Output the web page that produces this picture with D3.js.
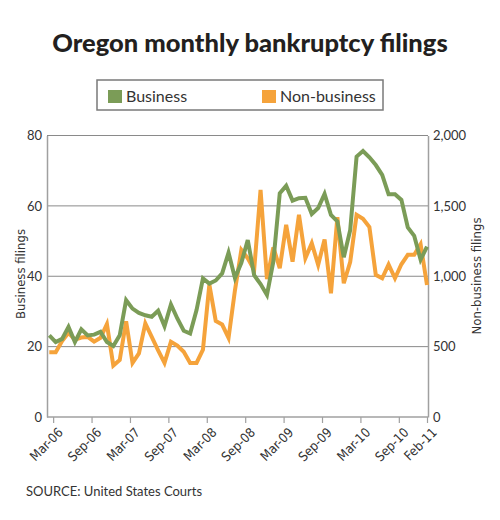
<!DOCTYPE html>
<html>
<head>
<meta charset="utf-8">
<script src="https://cdn.jsdelivr.net/npm/d3@7.9.0/dist/d3.min.js"></script>
<style>
  body { margin: 0; background: #fff; }
  svg { display: block; font-family: Lato, "Open Sans", sans-serif; }
  .cond { font-family: "Liberation Sans Narrow", "DejaVu Sans Condensed", Lato, sans-serif; font-stretch: condensed; }
</style>
</head>
<body>
<svg id="chart" width="500" height="520"></svg>
<script>
// monthly values, Mar-06 .. Feb-11
const business = [
  23.2, 21.3, 22.2, 25.6, 21.3, 24.9, 23.2, 23.4, 24.2, 21.3,
  20.2, 23.2, 33.2, 30.8, 29.6, 28.9, 28.5, 30.2, 25.8, 32.0,
  28.0, 24.5, 23.7, 30.4, 39.4, 37.9, 38.8, 40.8, 46.7, 39.5,
  43.8, 50.3, 40.3, 37.8, 34.7, 44.2, 63.6, 65.7, 61.5, 62.2,
  62.3, 57.7, 59.4, 63.4, 57.4, 55.6, 45.4, 53.1, 74.0, 75.6,
  73.8, 71.6, 68.8, 63.3, 63.3, 61.7, 53.9, 51.5, 44.7, 48.4
];
const nonBusiness = [
  460, 460, 540, 598, 550, 565, 569, 535, 563, 660,
  365, 405, 680, 384, 452, 665, 569, 474, 384, 534,
  508, 463, 384, 384, 479, 940, 683, 657, 562, 900,
  1187, 1128, 1045, 1614, 980, 1205, 1057, 1365, 1104, 1436,
  1128, 1235, 1081, 1262, 879, 1420, 950, 1100, 1436, 1408,
  1350, 1010, 986, 1084, 986, 1085, 1152, 1152, 1228, 938
];
const tickIndex = [0, 6, 12, 18, 24, 30, 36, 42, 48, 54, 59];
const tickLabels = ['Mar-06', 'Sep-06', 'Mar-07', 'Sep-07', 'Mar-08', 'Sep-08',
                    'Mar-09', 'Sep-09', 'Mar-10', 'Sep-10', 'Feb-11'];
const leftTicks = [0, 20, 40, 60, 80];
const rightTicks = [0, 500, 1000, 1500, 2000];
const seriesNames = ['Business', 'Non-business'];
const colors = ['#7b9c57', '#f5a33b'];

const svg = d3.select('#chart');
const plotLeft = 47, plotRight = 428, plotTop = 135.5, plotBottom = 417;

let x = d3.scaleLinear().domain([0, business.length - 1]).range([49.3, 427]);
let yL = d3.scaleLinear().domain([0, 80]).range([plotBottom, plotTop]);
let yR = d3.scaleLinear().domain([0, 2000]).range([plotBottom, plotTop]);

// title
svg.append('text')
   .attr('x', 250).attr('y', 52)
   .attr('text-anchor', 'middle')
   .attr('font-size', 25.5).attr('font-weight', 900)
   .attr('fill', '#231f20')
   .text('Oregon monthly bankruptcy filings');

// legend
let legend = svg.append('g');
legend.append('rect')
      .attr('x', 97).attr('y', 80).attr('width', 286).attr('height', 30)
      .attr('fill', '#fff').attr('stroke', '#7a7a7a').attr('stroke-width', 1.5);
[108, 262].forEach((lx, i) => {
  legend.append('rect')
        .attr('x', lx).attr('y', 90).attr('width', 14).attr('height', 13)
        .attr('fill', colors[i]);
  legend.append('text')
        .attr('x', lx + 18).attr('y', 102)
        .attr('font-size', 16).attr('fill', '#333')
        .text(seriesNames[i]);
});

// gridlines
svg.append('g').selectAll('line')
   .data(leftTicks.slice(1))
   .join('line')
   .attr('x1', plotLeft).attr('x2', plotRight)
   .attr('y1', (d) => yL(d)).attr('y2', (d) => yL(d))
   .attr('stroke', '#8a8a8a').attr('stroke-width', 1);

// left axis
let gL = svg.append('g').attr('transform', `translate(${plotLeft},0)`)
  .call(d3.axisLeft(yL).tickValues(leftTicks).tickSize(0).tickPadding(5));
gL.select('.domain').attr('stroke', '#a0a0a0').attr('stroke-width', 1.5);
gL.selectAll('text').attr('font-size', 13).attr('fill', '#333')
  .attr('font-family', 'Lato, sans-serif');

// right axis
let gR = svg.append('g').attr('transform', `translate(${plotRight},0)`)
  .call(d3.axisRight(yR).tickValues(rightTicks).tickSize(0).tickPadding(5)
        .tickFormat(d3.format(',')));
gR.select('.domain').attr('stroke', '#a0a0a0').attr('stroke-width', 1.5);
gR.selectAll('text').attr('font-size', 13).attr('fill', '#333')
  .attr('font-family', 'Lato, sans-serif');

// bottom axis
let tickPos = tickIndex.map((i) => Math.min(i + 0.6, business.length - 1));
let gB = svg.append('g').attr('transform', `translate(0,${plotBottom})`)
  .call(d3.axisBottom(x).tickValues(tickPos).tickSize(6)
        .tickFormat((d, i) => tickLabels[i]));
gB.select('.domain').attr('stroke', '#a0a0a0').attr('stroke-width', 1.5)
  .attr('d', `M${plotLeft},0H${plotRight}`);
gB.selectAll('.tick line').attr('stroke', '#a0a0a0').attr('stroke-width', 1.2);
gB.selectAll('text')
  .attr('class', 'cond')
  .attr('font-size', 13).attr('fill', '#333')
  .attr('text-anchor', 'end')
  .attr('transform', 'translate(7,13) rotate(-45)')
  .attr('dy', '0.35em').attr('y', 0).attr('x', 0);

// axis titles
svg.append('text')
   .attr('class', 'cond')
   .attr('transform', 'translate(25,274) rotate(-90)')
   .attr('text-anchor', 'middle').attr('font-size', 13).attr('fill', '#333')
   .text('Business  filings');
svg.append('text')
   .attr('class', 'cond')
   .attr('transform', 'translate(481,276) rotate(-90)')
   .attr('text-anchor', 'middle').attr('font-size', 13).attr('fill', '#333')
   .text('Non-business  filings');

// lines
let lineL = d3.line().x((d, i) => x(i)).y((d) => yL(d));
let lineR = d3.line().x((d, i) => x(i)).y((d) => yR(d));

svg.append('path')
   .attr('d', lineR(nonBusiness))
   .attr('fill', 'none').attr('stroke', colors[1])
   .attr('stroke-width', 4).attr('stroke-linejoin', 'miter');
svg.append('path')
   .attr('d', lineL(business))
   .attr('fill', 'none').attr('stroke', colors[0])
   .attr('stroke-width', 4).attr('stroke-linejoin', 'miter');

// source
svg.append('text')
   .attr('x', 26).attr('y', 496)
   .attr('font-size', 13).attr('fill', '#333')
   .text('SOURCE: United States Courts');
</script>
</body>
</html>
